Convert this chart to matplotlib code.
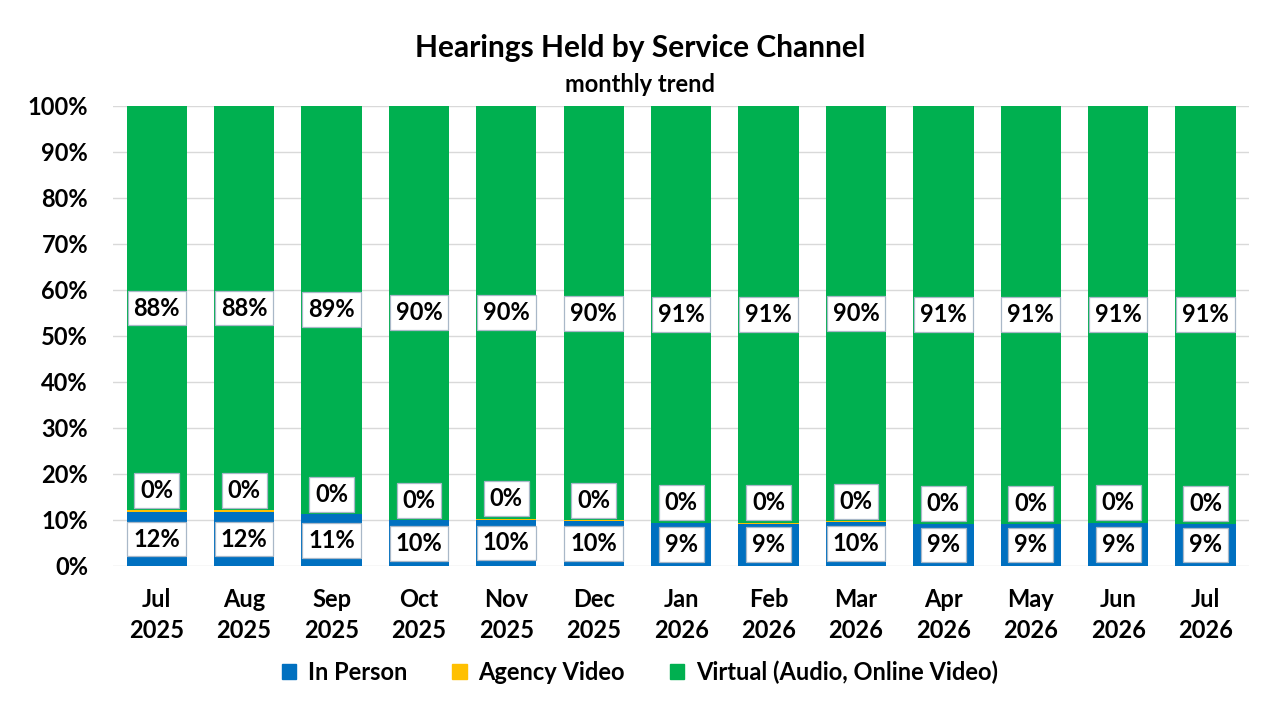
import numpy as np
import matplotlib
matplotlib.use('Agg')
import matplotlib.pyplot as plt
from matplotlib.patches import Patch

plt.rcParams['font.family'] = ['Lato', 'Open Sans', 'DejaVu Sans']
plt.rcParams['font.weight'] = 'bold'

# 数据
months = ['Jul\n2025', 'Aug\n2025', 'Sep\n2025', 'Oct\n2025', 'Nov\n2025', 'Dec\n2025',
          'Jan\n2026', 'Feb\n2026', 'Mar\n2026', 'Apr\n2026', 'May\n2026', 'Jun\n2026', 'Jul\n2026']
in_person = [11.7, 11.7, 11.2, 9.9, 10.0, 9.8, 9.3, 9.2, 9.6, 9.1, 9.1, 9.3, 9.1]
agency_video = [0.4, 0.4, 0.1, 0.1, 0.3, 0.1, 0.1, 0.2, 0.1, 0.1, 0.1, 0.1, 0.1]
virtual = [100 - a - b for a, b in zip(in_person, agency_video)]

c_blue = '#0070C0'
c_yellow = '#FFC000'
c_green = '#00B050'

fig = plt.figure(figsize=(12.8, 7.2), dpi=100)
ax = fig.add_axes([0.0883, 0.214, 0.8877, 0.639])

x = np.arange(len(months))
w = 0.69
ip = np.array(in_person)
av = np.array(agency_video)
vi = np.array(virtual)
ax.bar(x, ip, w, color=c_blue, zorder=2)
ax.bar(x, av, w, bottom=ip, color=c_yellow, zorder=2)
ax.bar(x, vi, w, bottom=ip + av, color=c_green, zorder=2)

box = dict(boxstyle='square,pad=0.25', fc='white', ec='#A9B8C8', lw=0.9)
for i in x:
    ax.text(i, ip[i] / 2, f'{round(ip[i]):.0f}%', ha='center', va='center',
            fontsize=17, fontweight='bold', bbox=box, zorder=4)
    ax.text(i, ip[i] + av[i] + 4.3, f'{round(av[i]):.0f}%', ha='center', va='center',
            fontsize=17, fontweight='bold', bbox=box, zorder=4)
    ax.text(i, ip[i] + av[i] + vi[i] / 2, f'{round(vi[i]):.0f}%', ha='center', va='center',
            fontsize=17, fontweight='bold', bbox=box, zorder=4)

ax.set_xlim(-0.5, len(months) - 0.5)
ax.set_ylim(0, 100)
ax.set_yticks(np.arange(0, 101, 10))
ax.set_yticklabels([f'{v}%' for v in range(0, 101, 10)], fontsize=17, fontweight='bold')
ax.set_xticks(x)
ax.set_xticklabels(months, fontsize=17, fontweight='bold', linespacing=1.4)
ax.tick_params(length=0)
ax.tick_params(axis='y', pad=18)
ax.tick_params(axis='x', pad=16)
ax.grid(axis='y', color='#D9D9D9', lw=1, zorder=0)
for s in ax.spines.values():
    s.set_visible(False)

fig.text(0.5, 0.933, 'Hearings Held by Service Channel', ha='center', va='center',
         fontsize=21.5, fontweight='bold')
fig.text(0.5, 0.882, 'monthly trend', ha='center', va='center',
         fontsize=17, fontweight='bold')

handles = [Patch(color=c_blue), Patch(color=c_yellow), Patch(color=c_green)]
fig.legend(handles, ['In Person', 'Agency Video', 'Virtual (Audio, Online Video)'],
           loc='center', bbox_to_anchor=(0.5, 0.066), ncol=3, frameon=False,
           fontsize=17, handlelength=0.6, handleheight=0.6, columnspacing=1.9,
           handletextpad=0.5)

fig.savefig('out.png', dpi=100)
